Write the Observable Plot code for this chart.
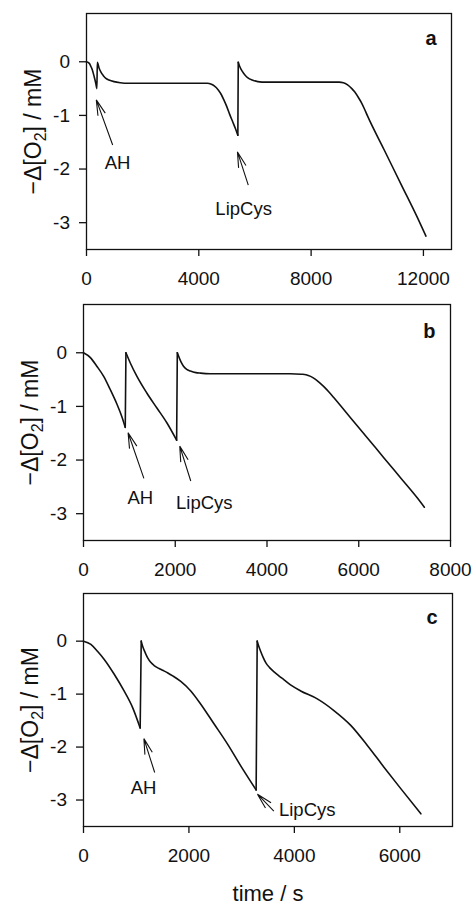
<!DOCTYPE html>
<html><head><meta charset="utf-8">
<script src="https://cdn.jsdelivr.net/npm/d3@7"></script>
<script src="https://cdn.jsdelivr.net/npm/@observablehq/plot@0.6"></script>
<style>
html,body{margin:0;padding:0;background:#fff;}
#chart{width:473px;}
#chart svg{display:block;}
</style></head><body><div id="chart"></div>
<script>
// ---------- data ----------
const yTicks = [0, -1, -2, -3];
const yLabelText = "−Δ[O2] / mM";
const xLabelText = "time / s";

// panel a
const timeA = [0, 100, 150, 200, 270, 330, 370, 385, 450, 510, 600, 690, 800, 980, 1200, 1500, 2000, 3000, 4000, 4300, 4450, 4550, 4700, 4800, 4900, 5000, 5100, 5200, 5300, 5390, 5405, 5450, 5550, 5650, 5750, 5900, 6100, 6400, 6800, 7500, 8500, 9000, 9150, 9300, 9450, 9550, 9700, 9800, 9900, 10000, 10600, 11200, 11800, 12090];
const o2A   = [0, -0.03, -0.08, -0.14, -0.27, -0.40, -0.50, -0.01, -0.12, -0.19, -0.26, -0.31, -0.34, -0.37, -0.39, -0.40, -0.40, -0.40, -0.40, -0.40, -0.42, -0.45, -0.53, -0.61, -0.72, -0.84, -0.98, -1.11, -1.24, -1.37, -0.01, -0.08, -0.18, -0.25, -0.30, -0.34, -0.37, -0.38, -0.38, -0.38, -0.38, -0.38, -0.39, -0.43, -0.50, -0.56, -0.68, -0.77, -0.88, -1.00, -1.64, -2.28, -2.92, -3.25];
const xTicksA = [0, 4000, 8000, 12000];
const arrowsA = [
  {x1: 950, y1: -1.56, x2: 367, y2: -0.72},
  {x1: 5780, y1: -2.31, x2: 5395, y2: -1.69}
];
const notesA = [
  {x: 1105, y: -1.88, text: "AH", anchor: "middle"},
  {x: 5597, y: -2.75, text: "LipCys", anchor: "middle"}
];

// panel b
const timeB = [0, 150, 290, 440, 580, 730, 840, 910, 925, 1020, 1165, 1380, 1600, 1820, 2030, 2045, 2120, 2180, 2250, 2330, 2450, 2550, 2760, 3000, 3500, 4000, 4500, 4750, 4850, 4950, 5050, 5150, 5250, 5350, 5450, 5820, 6180, 6550, 6910, 7270, 7430];
const o2B   = [0, -0.09, -0.25, -0.44, -0.68, -0.96, -1.20, -1.39, 0, -0.19, -0.44, -0.75, -1.03, -1.31, -1.63, 0, -0.16, -0.25, -0.31, -0.34, -0.37, -0.38, -0.39, -0.39, -0.39, -0.39, -0.39, -0.40, -0.41, -0.44, -0.49, -0.56, -0.64, -0.73, -0.83, -1.21, -1.58, -1.96, -2.33, -2.70, -2.88];
const xTicksB = [0, 2000, 4000, 6000, 8000];
const arrowsB = [
  {x1: 1327, y1: -2.35, x2: 983, y2: -1.50},
  {x1: 2349, y1: -2.40, x2: 2109, y2: -1.75}
];
const notesB = [
  {x: 1237, y: -2.71, text: "AH", anchor: "middle"},
  {x: 2633, y: -2.80, text: "LipCys", anchor: "middle"}
];

// panel c
const timeC = [0, 140, 265, 390, 580, 770, 930, 1075, 1095, 1120, 1150, 1180, 1220, 1275, 1340, 1420, 1500, 1600, 1700, 1845, 2035, 2225, 2475, 2730, 2980, 3275, 3295, 3320, 3360, 3410, 3460, 3530, 3615, 3700, 3805, 3950, 4120, 4435, 4750, 5070, 5385, 5700, 6015, 6400];
const o2C   = [0, -0.06, -0.19, -0.34, -0.62, -0.94, -1.25, -1.64, 0, -0.09, -0.17, -0.24, -0.32, -0.40, -0.46, -0.51, -0.55, -0.60, -0.66, -0.76, -0.94, -1.19, -1.56, -1.94, -2.35, -2.81, 0, -0.08, -0.19, -0.31, -0.41, -0.50, -0.58, -0.65, -0.73, -0.84, -0.94, -1.09, -1.31, -1.59, -1.97, -2.38, -2.78, -3.26];
const xTicksC = [0, 2000, 4000, 6000];
const arrowsC = [
  {x1: 1360, y1: -2.49, x2: 1155, y2: -1.85},
  {x1: 3620, y1: -3.22, x2: 3310, y2: -2.90}
];
const notesC = [
  {x: 1140, y: -2.78, text: "AH", anchor: "middle"},
  {x: 3708, y: -3.19, text: "LipCys", anchor: "start"}
];

// ---------- drawing ----------
const FONT = "'Liberation Sans', Arial, Helvetica, sans-serif";
const INK = "#111";
const TICK_FONT = 19;

// split a trace into smooth pieces; each injection jump becomes its own straight piece
function pieces(time, o2) {
  const out = [];
  let seg = 0;
  for (let i = 0; i < time.length; i++) {
    if (i > 0 && o2[i] - o2[i - 1] > 0.5) {
      seg++;
      out.push({t: time[i - 1], v: o2[i - 1], seg, kind: "jump"});
      out.push({t: time[i], v: o2[i], seg, kind: "jump"});
      seg++;
    }
    out.push({t: time[i], v: o2[i], seg, kind: "smooth"});
  }
  return out;
}

// open arrowheads drawn through the plot's own scales
function arrowMark(arrows) {
  return (index, scales) => {
    const g = d3.create("svg:g").attr("fill", "none").attr("stroke", INK).attr("stroke-width", 1.1);
    const L = 16, w = 14 * Math.PI / 180;
    for (const d of arrows) {
      const x1 = scales.x(d.x1), y1 = scales.y(d.y1), x2 = scales.x(d.x2), y2 = scales.y(d.y2);
      const a = Math.atan2(y1 - y2, x1 - x2);
      const b1x = x2 + L * Math.cos(a - w), b1y = y2 + L * Math.sin(a - w);
      const b2x = x2 + L * Math.cos(a + w), b2y = y2 + L * Math.sin(a + w);
      g.append("path").attr("d", `M${x1},${y1}L${x2},${y2}M${b1x},${b1y}L${x2},${y2}L${b2x},${b2y}`);
    }
    return g.node();
  };
}

function panel(cfg) {
  const data = pieces(cfg.time, cfg.o2);
  const svg = Plot.plot({
    width: 473,
    height: cfg.height,
    marginLeft: cfg.m[3], marginRight: cfg.m[1], marginTop: cfg.m[0], marginBottom: cfg.m[2],
    style: {fontFamily: FONT, fontSize: TICK_FONT + "px", color: INK, background: "#fff"},
    x: {domain: cfg.xDomain},
    y: {domain: [-3.5, 0.9]},
    marks: [
      Plot.axisY({ticks: yTicks, tickFormat: d => String(d), tickSize: 7, tickPadding: 9.5, strokeWidth: 1.3, fontSize: TICK_FONT,
        label: yLabelText, labelAnchor: "center", labelOffset: 62}),
      Plot.axisX({ticks: cfg.xTicks, tickFormat: d => String(d), tickSize: 7, tickPadding: 15, strokeWidth: 1.3, fontSize: TICK_FONT,
        label: cfg.xLabel ? xLabelText : null, labelAnchor: "center", labelOffset: 74}),
      Plot.frame({stroke: INK, strokeWidth: 1.3}),
      Plot.line(data.filter(d => d.kind === "smooth"), {x: "t", y: "v", z: "seg", stroke: INK, strokeWidth: 1.6, curve: "monotone-x"}),
      Plot.line(data.filter(d => d.kind === "jump"), {x: "t", y: "v", z: "seg", stroke: INK, strokeWidth: 1.6, curve: "linear"}),
      arrowMark(cfg.arrows),
      Plot.text(cfg.notes.filter(d => d.anchor === "middle"), {x: "x", y: "y", text: "text", fontSize: 18.5, fill: INK, textAnchor: "middle"}),
      Plot.text(cfg.notes.filter(d => d.anchor === "start"), {x: "x", y: "y", text: "text", fontSize: 18.5, fill: INK, textAnchor: "start"}),
      Plot.text([cfg.letter], {frameAnchor: "top-right", lineAnchor: "middle", dx: -15, dy: cfg.letterDy, fontSize: 20, fontWeight: "bold", fill: INK})
    ]
  });
  // y label with subscript
  const yl = svg.querySelector('[aria-label="y-axis label"] text');
  if (yl) {
    yl.setAttribute("font-size", 23);
    yl.textContent = "";
    const ns = "http://www.w3.org/2000/svg";
    const t1 = document.createElementNS(ns, "tspan"); t1.textContent = "−Δ[O";
    const t2 = document.createElementNS(ns, "tspan"); t2.textContent = "2"; t2.setAttribute("font-size", "16"); t2.setAttribute("dy", "5");
    const t3 = document.createElementNS(ns, "tspan"); t3.textContent = "] / mM"; t3.setAttribute("dy", "-5");
    yl.append(t1, t2, t3);
  }
  const xl = svg.querySelector('[aria-label="x-axis label"] text');
  if (xl) { xl.setAttribute("font-size", 22); xl.textContent = xLabelText; }
  return svg;
}

const chart = document.getElementById("chart");
chart.append(panel({time: timeA, o2: o2A, xDomain: [0, 13000], xTicks: xTicksA, arrows: arrowsA, notes: notesA,
  letter: "a", letterDy: 25, height: 290, m: [13, 22, 41, 86]}));
chart.append(panel({time: timeB, o2: o2B, xDomain: [0, 8000], xTicks: xTicksB, arrows: arrowsB, notes: notesB,
  letter: "b", letterDy: 27, height: 290, m: [14, 23, 40, 83]}));
chart.append(panel({time: timeC, o2: o2C, xDomain: [0, 7000], xTicks: xTicksC, arrows: arrowsC, notes: notesC,
  letter: "c", letterDy: 24, height: 325, m: [13, 21, 79, 83], xLabel: true}));
</script></body></html>
